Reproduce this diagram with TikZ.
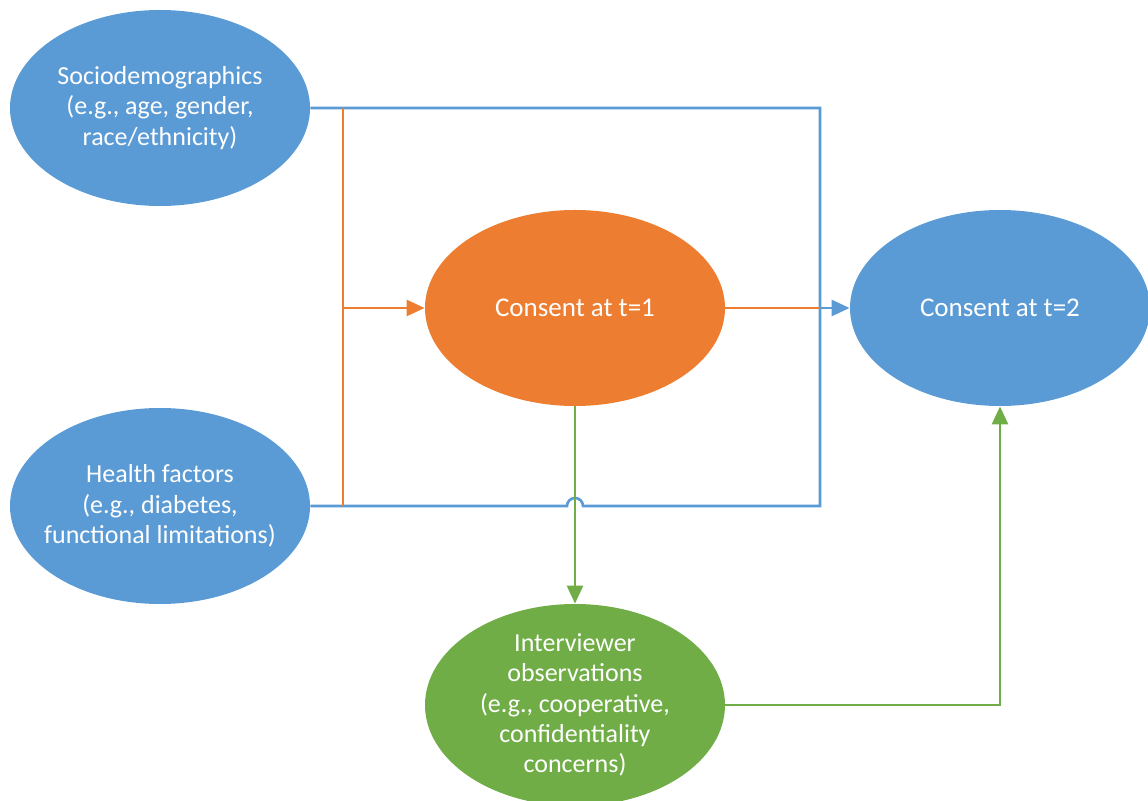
\documentclass[tikz,border=0pt]{standalone}
\usepackage{fontspec}
\setmainfont{Carlito}
\usetikzlibrary{shapes.geometric, arrows.meta}
\definecolor{ublue}{HTML}{5B9BD5}
\definecolor{uorange}{HTML}{ED7D31}
\definecolor{ugreen}{HTML}{70AD47}

\begin{document}
\begin{tikzpicture}[x = 0.5pt, y = -0.5pt,
  v/.style = {ellipse, minimum width=150pt, minimum height=98pt, inner sep=-20pt,
              align=center, text=white, font=\fontsize{13}{15.2}\selectfont},
  e/.style = {line width=1.3pt},
  a/.style = {e, -{Triangle[length=9pt, width=8pt]}}]
  \useasboundingbox (0,0) rectangle (1148,801);

  \node[v, fill=ublue] (socio) at (160,108) {Sociodemographics\\(e.g., age, gender,\\race/ethnicity)};
  \node[v, fill=ublue] (health) at (160,506) {Health factors\\(e.g., diabetes,\\functional limitations)};
  \node[v, fill=uorange, font=\fontsize{13.5}{15.2}\selectfont] (t1) at (575,308) {Consent at t=1};
  \node[v, fill=ublue, font=\fontsize{13.5}{15.2}\selectfont] (t2) at (1000,308) {Consent at t=2};
  \node[v, fill=ugreen, minimum height=101pt] (obs) at (575,705) {Interviewer\\observations\\(e.g., cooperative,\\confidentiality\\concerns)};

  \coordinate (ktop) at (343,108);
  \coordinate (kmid) at (343,308);
  \coordinate (kbot) at (343,506);
  \coordinate (rtop) at (820,108);
  \coordinate (rmid) at (820,308);
  \coordinate (rbot) at (820,506);
  \coordinate (hop) at (583,506);

  % blue frame, hopping over the green line
  \draw[e, ublue] (socio) -- (rtop) -- (rbot) -- (hop)
    arc[start angle=0, end angle=180, radius=4pt] -- (health);
  \draw[e, uorange] (ktop) -- (kbot);
  \draw[a, uorange] (kmid) -- (t1);
  \draw[e, uorange] (t1) -- (rmid);
  \draw[a, ublue] (rmid) -- (t2);
  \draw[a, ugreen] (t1) -- (obs);
  \draw[a, ugreen] (obs) -| (t2);
\end{tikzpicture}
\end{document}
